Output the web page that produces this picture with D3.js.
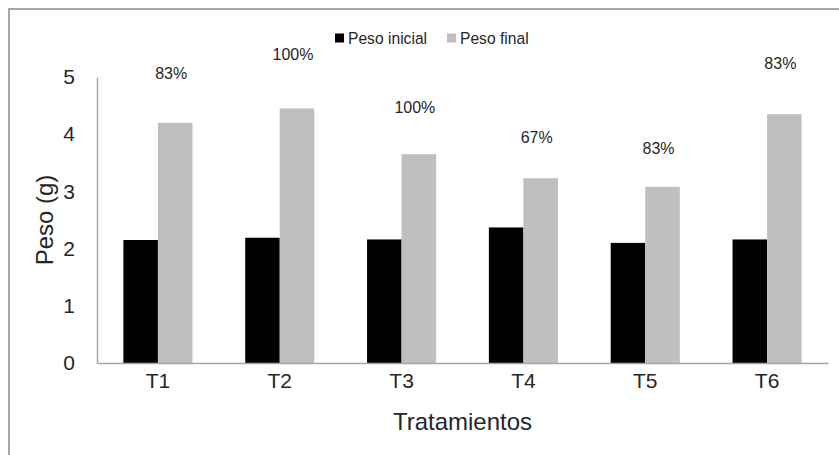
<!DOCTYPE html>
<html>
<head>
<meta charset="utf-8">
<script src="https://cdn.jsdelivr.net/npm/d3@7"></script>
<style>
  html, body { margin: 0; padding: 0; background: #fff; }
  svg { display: block; }
</style>
</head>
<body>
<div id="chart"></div>
<script>
// ---- data ----
const categories = ["T1", "T2", "T3", "T4", "T5", "T6"];
const seriesNames = ["Peso inicial", "Peso final"];
const pesoInicial = [2.15, 2.19, 2.16, 2.37, 2.10, 2.16];
const pesoFinal   = [4.20, 4.45, 3.65, 3.23, 3.08, 4.35];
const pctLabels   = ["83%", "100%", "100%", "67%", "83%", "83%"];
// level (in g) at which each percentage annotation sits
const pctLevel    = [5.07, 5.40, 4.46, 3.95, 3.76, 5.23];
const yTicks      = [0, 1, 2, 3, 4, 5];
const colors      = ["#000000", "#bfbfbf"];

// ---- layout ----
const W = 839, H = 455;
const plot = { left: 97, right: 828, top: 77, bottom: 363 };

const svg = d3.select("#chart").append("svg")
  .attr("width", W).attr("height", H);

// outer frame
svg.append("path")
  .attr("d", `M9,${H} L9,9 L${W},9`)
  .attr("fill", "none")
  .attr("stroke", "#a6a6a6")
  .attr("stroke-width", 2);

const x = d3.scaleBand()
  .domain(categories)
  .range([plot.left, plot.right])
  .paddingInner(0.433)
  .paddingOuter(0.2165);

const xs = d3.scaleBand()
  .domain(seriesNames)
  .range([0, x.bandwidth()])
  .padding(0);

const y = d3.scaleLinear()
  .domain([0, 5])
  .range([plot.bottom, plot.top]);

const rows = categories.map((c, i) => ({
  cat: c,
  vals: [
    { s: seriesNames[0], v: pesoInicial[i] },
    { s: seriesNames[1], v: pesoFinal[i] }
  ],
  pct: pctLabels[i],
  lvl: pctLevel[i]
}));

// bars
const g = svg.append("g");
g.selectAll("g.grp").data(rows).join("g")
  .attr("class", "grp")
  .attr("transform", d => `translate(${x(d.cat)},0)`)
  .selectAll("rect").data(d => d.vals).join("rect")
    .attr("x", d => xs(d.s))
    .attr("width", xs.bandwidth())
    .attr("y", d => y(d.v))
    .attr("height", d => y(0) - y(d.v))
    .attr("fill", (d, i) => colors[i]);

// y axis
const yAxis = svg.append("g")
  .attr("transform", `translate(${plot.left},0)`)
  .call(d3.axisLeft(y).tickValues(yTicks).tickFormat(d3.format("d")).tickSize(0).tickPadding(22));
yAxis.select(".domain").attr("stroke", "#a6a6a6").attr("stroke-width", 1.5);
yAxis.selectAll("text")
  .attr("font-family", "Liberation Sans, Arial, sans-serif")
  .attr("font-size", 21)
  .attr("fill", "#262626");

// x axis
const xAxis = svg.append("g")
  .attr("transform", `translate(0,${plot.bottom})`)
  .call(d3.axisBottom(x).tickSize(0).tickPadding(10));
xAxis.select(".domain").attr("stroke", "#a6a6a6").attr("stroke-width", 1.5);
xAxis.selectAll("text")
  .attr("font-family", "Liberation Sans, Arial, sans-serif")
  .attr("font-size", 21)
  .attr("fill", "#262626");

// axis titles
svg.append("text")
  .attr("x", (plot.left + plot.right) / 2)
  .attr("y", 430)
  .attr("text-anchor", "middle")
  .attr("font-family", "Liberation Sans, Arial, sans-serif")
  .attr("font-size", 24)
  .attr("fill", "#262626")
  .text("Tratamientos");

svg.append("text")
  .attr("transform", `translate(53,${(plot.top + plot.bottom) / 2}) rotate(-90)`)
  .attr("text-anchor", "middle")
  .attr("font-family", "Liberation Sans, Arial, sans-serif")
  .attr("font-size", 24)
  .attr("fill", "#262626")
  .text("Peso (g)");

// percentage annotations
svg.selectAll("text.pct").data(rows).join("text")
  .attr("class", "pct")
  .attr("x", d => x(d.cat) + xs(seriesNames[1]) + xs.bandwidth() / 2 - 4)
  .attr("y", d => y(d.lvl))
  .attr("dy", "0.35em")
  .attr("text-anchor", "middle")
  .attr("font-family", "Liberation Sans, Arial, sans-serif")
  .attr("font-size", 16)
  .attr("fill", "#262626")
  .text(d => d.pct);

// legend
const legend = svg.append("g").attr("transform", "translate(335,38)");
const lx = [0, 112];
seriesNames.forEach((name, i) => {
  const item = legend.append("g").attr("transform", `translate(${lx[i]},0)`);
  item.append("rect")
    .attr("x", 0).attr("y", -4.5)
    .attr("width", 9).attr("height", 9)
    .attr("fill", colors[i]);
  item.append("text")
    .attr("transform", "translate(13,0) scale(0.92,1)")
    .attr("dy", "0.35em")
    .attr("font-family", "Liberation Sans Narrow, Arial Narrow, Liberation Sans, sans-serif")
    .attr("font-size", 17)
    .attr("fill", "#262626")
    .text(name);
});
</script>
</body>
</html>
